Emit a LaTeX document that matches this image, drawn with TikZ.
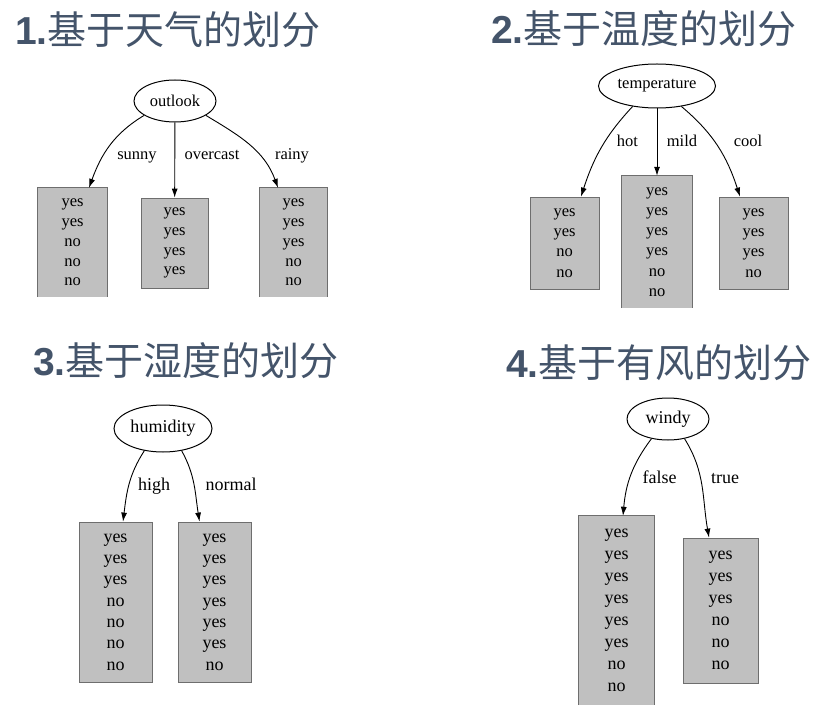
\documentclass[tikz,border=0pt]{standalone}
\usepackage{fontspec}
\setmainfont{Liberation Serif}
\setsansfont{Liberation Sans}
\newfontfamily\cjk{Noto Sans CJK SC}
\usepackage{xcolor}
\usetikzlibrary{arrows.meta, shapes.geometric}

\definecolor{titleblue}{HTML}{44546A}
\definecolor{boxgray}{HTML}{C0C0C0}
\definecolor{boxedge}{HTML}{6E6E6E}

\begin{document}
\begin{tikzpicture}[
    x=1pt, y=1pt,
    heading/.style={anchor=base west, inner sep=0pt, text=titleblue, font=\fontsize{39}{39}\selectfont},
    attr/.style={draw, ellipse, line width=1pt, inner sep=0pt},
    leaf/.style={fill=boxgray, draw=boxedge, line width=0.8pt, align=center, inner sep=0pt},
    cutleaf/.style={fill=boxgray, align=center, inner sep=0pt},
    cutside/.style={draw=boxedge, line width=0.8pt},
    branch/.style={-{Latex[length=9pt, width=6pt]}, line width=0.9pt},
    val/.style={anchor=base, inner sep=0pt}
]
\useasboundingbox (0,0) rectangle (813,-711);

% 1. Headings
\node[heading] (h1) at (15,-45) {\textsf{\bfseries 1.}{\cjk 基于天气的划分}};
\node[heading] (h2) at (491,-44) {\textsf{\bfseries 2.}{\cjk 基于温度的划分}};
\node[heading] (h3) at (33,-375) {\textsf{\bfseries 3.}{\cjk 基于湿度的划分}};
\node[heading] (h4) at (506,-377) {\textsf{\bfseries 4.}{\cjk 基于有风的划分}};

% 2. Outlook split
\begin{scope}[font=\fontsize{16.5}{19.8}\selectfont]
\node[attr, minimum width=82, minimum height=42] (outlook) at (175,-101) {outlook};
\node[cutleaf, minimum width=69, minimum height=109] (sunny) at (72.5,-242.5) {yes\\yes\\no\\no\\no};
\node[leaf, minimum width=67, minimum height=90] (overcast) at (174.5,-243) {yes\\yes\\yes\\yes};
\node[cutleaf, minimum width=67, minimum height=109] (rainy) at (293.5,-242.5) {yes\\yes\\yes\\no\\no};
\draw[cutside] (sunny.south west) |- (sunny.north) -| (sunny.south east);
\draw[cutside] (rainy.south west) |- (rainy.north) -| (rainy.south east);

\draw[branch] (outlook.205) to[out=211, in=70] ([xshift=16.5]sunny.north);
\draw[branch] (outlook) -- (overcast);
\draw[branch] (outlook.335) to[out=-31, in=110] ([xshift=-15.5]rainy.north);

\node[val] (l-sunny) at (137,-160) {sunny};
\node[val] (l-overcast) at (212,-160) {overcast};
\node[val] (l-rainy) at (292,-160) {rainy};
\end{scope}

% 3. Temperature split
\begin{scope}[font=\fontsize{16.5}{20.3}\selectfont]
\node[attr, minimum width=117, minimum height=44] (temperature) at (657,-86) {temperature};
\node[leaf, minimum width=69, minimum height=92] (hot) at (564.5,-243) {yes\\yes\\no\\no};
\node[cutleaf, minimum width=70, minimum height=132] (mild) at (657,-242) {yes\\yes\\yes\\yes\\no\\no};
\node[leaf, minimum width=69, minimum height=92] (cool) at (753.5,-243) {yes\\yes\\yes\\no};
\draw[cutside] (mild.south west) |- (mild.north) -| (mild.south east);

\draw[branch] (temperature.220) to[out=227, in=72] ([xshift=16.5]hot.north);
\draw[branch] (temperature) -- (mild);
\draw[branch] (temperature.320) to[out=-40, in=108] ([xshift=-13.5]cool.north);

\node[val] (l-hot) at (627.5,-147) {hot};
\node[val] (l-mild) at (682,-147) {mild};
\node[val] (l-cool) at (748,-147) {cool};
\end{scope}

% 4. Humidity split
\begin{scope}[font=\fontsize{18}{21.3}\selectfont]
\node[attr, minimum width=98, minimum height=47] (humidity) at (163,-428.5) {humidity};
\node[leaf, minimum width=73, minimum height=160] (high) at (115.5,-602) {yes\\yes\\yes\\no\\no\\no\\no};
\node[leaf, minimum width=73, minimum height=160] (normal) at (214.5,-602) {yes\\yes\\yes\\yes\\yes\\yes\\no};

\draw[branch] (humidity.230) to[out=237, in=83] ([xshift=7.5]high.north);
\draw[branch] (humidity.310) to[out=-61, in=99] ([xshift=-15]normal.north);

\node[val] (l-high) at (154,-490) {high};
\node[val] (l-normal) at (231,-490) {normal};
\end{scope}

% 5. Windy split
\begin{scope}[font=\fontsize{18}{22}\selectfont]
\node[attr, minimum width=82, minimum height=42] (windy) at (668,-419) {windy};
\node[cutleaf, minimum width=75, minimum height=189] (wfalse) at (616.5,-610.5) {yes\\yes\\yes\\yes\\yes\\yes\\no\\no};
\node[leaf, minimum width=75, minimum height=145] (wtrue) at (720.5,-610.5) {yes\\yes\\yes\\no\\no\\no};
\draw[cutside] (wfalse.south west) |- (wfalse.north) -| (wfalse.south east);

\draw[branch] (windy.230) to[out=233, in=85] ([xshift=6.5]wfalse.north);
\draw[branch] (windy.310) to[out=-58, in=100] ([xshift=-11.5]wtrue.north);

\node[val] (l-false) at (659.5,-483) {false};
\node[val] (l-true) at (725,-483) {true};
\end{scope}

\end{tikzpicture}
\end{document}
